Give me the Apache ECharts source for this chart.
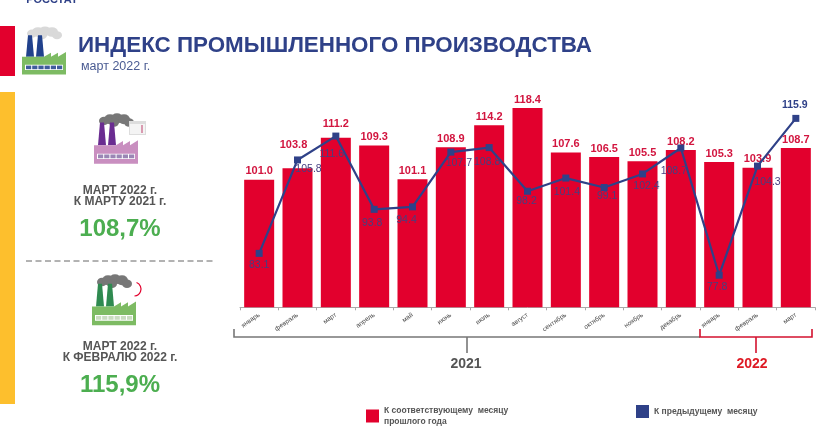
<!DOCTYPE html>
<html>
<head>
<meta charset="utf-8">
<title>Индекс промышленного производства</title>
<script src="https://cdn.jsdelivr.net/npm/echarts@6/dist/echarts.min.js"></script>
<style>
html, body { margin: 0; padding: 0; background: #fff; }
#chart { width: 832px; height: 432px; }
</style>
</head>
<body>
<div id="chart"></div>
<script>
const months = ['январь', 'февраль', 'март', 'апрель', 'май', 'июнь', 'июль', 'август', 'сентябрь', 'октябрь', 'ноябрь', 'декабрь', 'январь', 'февраль', 'март']
const yearAgoValues = [101.0, 103.8, 111.2, 109.3, 101.1, 108.9, 114.2, 118.4, 107.6, 106.5, 105.5, 108.2, 105.3, 103.9, 108.7]
const prevMonthValues = [83.1, 105.8, 111.6, 93.8, 94.4, 107.7, 108.8, 98.2, 101.4, 99.1, 102.4, 108.7, 77.8, 104.3, 115.9]
const yearAgoName = 'К соответствующему  месяцу прошлого года'
const prevMonthName = 'К предыдущему  месяцу'

const RED = '#e2002d'
const NAVY = '#2f4188'
const GREEN = '#4cae50'
const GREY = '#555'
const FONT = '"Liberation Sans", Arial, sans-serif'

// label position for each line point, relative to the marker
const lineLabelOffsets = [[0, 12], [11, 9], [-4, 18], [-2, 14], [-6, 13], [8, 11], [-2, 15], [-1, 10], [1, 14], [3, 9], [4, 12], [-7, 23], [-2, 12], [10, 16], [-1, -13]]
// февраль и март подняты над линией
const barLabelOffsets = { 1: [-4, -15], 2: [0, -5] }

function text(x, y, str, size, color, extra) {
    return {
        type: 'text',
        x: x,
        y: y,
        style: Object.assign({ text: str, fontSize: size, fontFamily: FONT, fill: color, align: 'center', verticalAlign: 'middle' }, extra)
    }
}

function rect(x, y, w, h, color) {
    return { type: 'rect', shape: { x: x, y: y, width: w, height: h }, style: { fill: color } }
}

// фабрика: width 44, height 58 in local coordinates
function factory(x, y, sx, sy, pipe, smoke, body, strip) {
    const windows = [0, 1, 2, 3, 4, 5].map(i => rect(4 + i * 6.2, 47, 5.2, 4.5, strip))
    const puffs = [[10, 7, 5], [16, 5, 6], [23, 4, 6], [30, 5, 6], [35, 9, 5], [20, 9, 5]].map(p => ({
        type: 'circle', shape: { cx: p[0], cy: p[1], r: p[2] }, style: { fill: smoke }
    }))
    return {
        type: 'group',
        x: x,
        y: y,
        scaleX: sx,
        scaleY: sy,
        children: puffs.concat([
            { type: 'polygon', shape: { points: [[4, 36], [6, 9], [10, 9], [12, 36]] }, style: { fill: pipe } },
            { type: 'polygon', shape: { points: [[14, 36], [16, 9], [20, 9], [22, 36]] }, style: { fill: pipe } },
            { type: 'polygon', shape: { points: [[0, 58], [0, 36], [22, 36], [29, 31], [29, 36], [36, 31], [36, 36], [44, 30], [44, 58]] }, style: { fill: body } },
            rect(3, 46, 38, 6.5, '#fff')
        ], windows)
    }
}

function bracket(points, stem, color) {
    return [
        { type: 'polyline', shape: { points: points }, style: { stroke: color, lineWidth: 1.6, fill: null } },
        { type: 'line', shape: { x1: stem[0], y1: stem[1], x2: stem[0], y2: stem[2] }, style: { stroke: color, lineWidth: 1.6 } }
    ]
}

const calendar = [
    rect(129, 121, 17, 14, '#ddd'),
    rect(130, 124, 15, 10, '#f4f4f4'),
    rect(141, 125, 2, 8, '#d99ab0')
]

const graphics = [
    rect(0, 26, 15, 50, RED),
    rect(0, 92, 15, 312, '#fdbf2d'),
    text(52, 0, 'РОССТАТ', 11, NAVY, { fontWeight: 'bold', letterSpacing: 0.6 }),
    factory(22, 28, 1, 0.8, '#20418c', '#d9d9d9', '#7dbb63', '#3f5c9c'),
    text(78, 46, 'ИНДЕКС ПРОМЫШЛЕННОГО ПРОИЗВОДСТВА', 22.4, NAVY, { align: 'left', fontWeight: 'bold' }),
    text(81, 67, 'март 2022 г.', 12.5, '#4a5b92', { align: 'left' }),
    factory(94, 115, 1, 0.84, '#6a2c91', '#777', '#c98fc0', '#9a86b5'),
    ...calendar,
    text(120, 191, 'МАРТ 2022 г.', 12, GREY, { fontWeight: 'bold' }),
    text(120, 202, 'К МАРТУ 2021 г.', 12, GREY, { fontWeight: 'bold' }),
    text(120, 229, '108,7%', 24, GREEN, { fontWeight: 'bold' }),
    { type: 'line', shape: { x1: 26, y1: 261, x2: 214, y2: 261 }, style: { stroke: '#666', lineWidth: 1, lineDash: [6, 3.5] } },
    factory(92, 276, 1, 0.85, '#2f8a50', '#777', '#7dbb63', '#c9dcc0'),
    { type: 'arc', shape: { cx: 134, cy: 289, r: 7, startAngle: -1.2, endAngle: 1.5 }, style: { stroke: RED, lineWidth: 1.2, fill: null } },
    text(120, 347, 'МАРТ 2022 г.', 12, GREY, { fontWeight: 'bold' }),
    text(120, 358, 'К ФЕВРАЛЮ 2022 г.', 12, GREY, { fontWeight: 'bold' }),
    text(120, 385, '115,9%', 24, GREEN, { fontWeight: 'bold' }),
    ...bracket([[234, 329], [234, 337], [700, 337]], [467, 337, 353], '#777'),
    ...bracket([[700, 329], [700, 337], [812, 337], [812, 329]], [756, 337, 353], '#d3122f'),
    text(466, 364, '2021', 14, GREY, { fontWeight: 'bold' }),
    text(752, 364, '2022', 14, '#de1a24', { fontWeight: 'bold' })
]

const chart = echarts.init(document.getElementById('chart'))

chart.setOption({
    animation: false,
    textStyle: { fontFamily: FONT },
    grid: { left: 240, right: 17, top: 101.5, bottom: 124.7 },
    legend: [
        {
            data: [{ name: yearAgoName, icon: 'rect' }],
            left: 366,
            top: 405,
            padding: 0,
            itemWidth: 13,
            itemHeight: 13,
            itemGap: 5,
            formatter: () => 'К соответствующему  месяцу\nпрошлого года',
            textStyle: { fontSize: 8.5, lineHeight: 11, color: GREY, fontWeight: 'bold' }
        },
        {
            data: [{ name: prevMonthName, icon: 'rect' }],
            left: 636,
            top: 405,
            padding: 0,
            itemWidth: 13,
            itemHeight: 13,
            itemGap: 8,
            textStyle: { fontSize: 8.5, color: GREY, fontWeight: 'bold' }
        }
    ],
    xAxis: {
        type: 'category',
        data: months,
        axisLine: { lineStyle: { color: '#aaa' } },
        axisTick: { show: true, alignWithLabel: false, length: 3, lineStyle: { color: '#aaa' } },
        axisLabel: { interval: 0, rotate: 35, fontSize: 6.5, color: '#444', margin: 7 }
    },
    yAxis: { type: 'value', min: 70, max: 120, show: false },
    series: [
        {
            name: yearAgoName,
            type: 'bar',
            data: yearAgoValues.map((v, i) => ({
                value: v,
                label: { offset: barLabelOffsets[i] || [0, 0] }
            })),
            barWidth: 30,
            itemStyle: { color: RED },
            label: { show: true, position: 'top', distance: 3, formatter: p => p.value.toFixed(1), fontSize: 11, fontWeight: 'bold', color: '#d2153f' }
        },
        {
            name: prevMonthName,
            type: 'line',
            data: prevMonthValues.map((v, i) => ({
                value: v,
                label: { offset: lineLabelOffsets[i], color: i === 14 ? NAVY : '#453f80', fontWeight: i === 14 ? 'bold' : 'normal' }
            })),
            symbol: 'rect',
            symbolSize: 7,
            itemStyle: { color: NAVY },
            lineStyle: { color: NAVY, width: 2.2 },
            label: { show: true, position: 'inside', formatter: p => p.value.toFixed(1), fontSize: 10.5 },
            z: 5
        }
    ],
    graphic: graphics
})
</script>
</body>
</html>
